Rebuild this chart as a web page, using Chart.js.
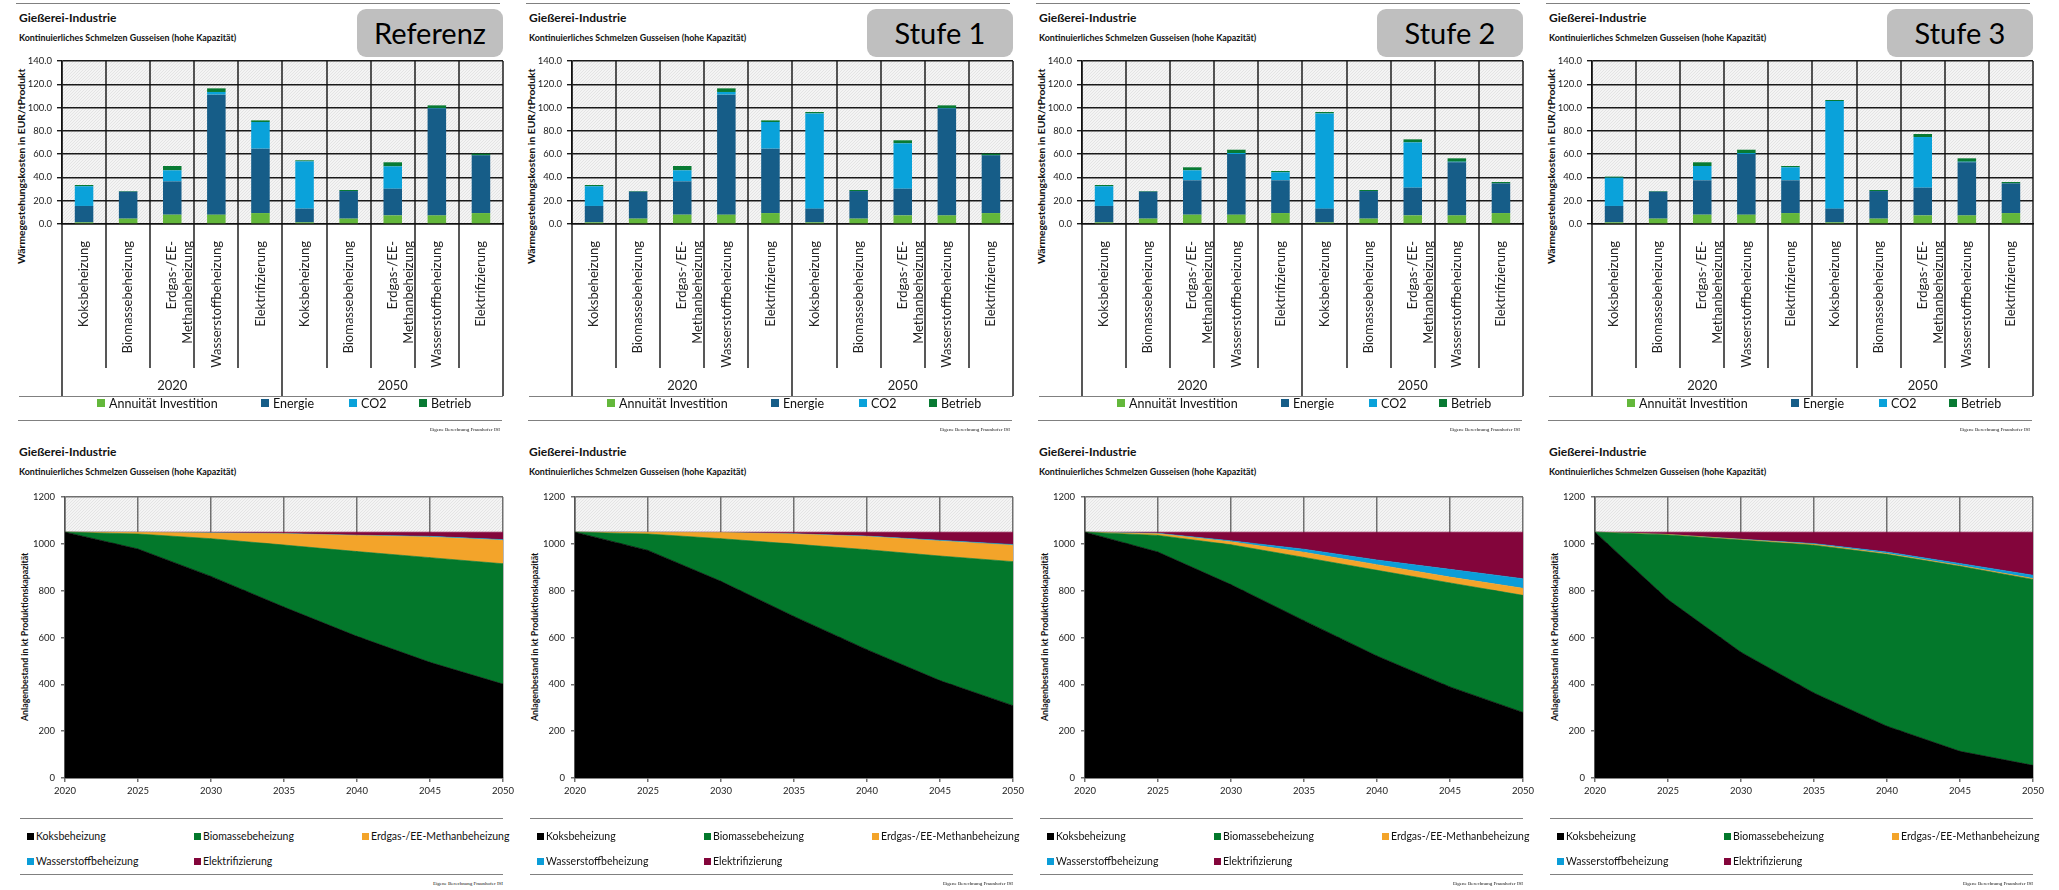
<!DOCTYPE html>
<html>
<head>
<meta charset="utf-8">
<script src="https://cdn.jsdelivr.net/npm/chart.js"></script>
<style>
    body { margin: 0; width: 2059px; height: 890px; background: #fff; position: relative; overflow: hidden; font-family: "Lato", sans-serif; color: #111; }
    .t { position: absolute; white-space: nowrap; }
    canvas { position: absolute; }
    .hr { position: absolute; height: 0; border-top: 1.5px solid #808080; }
    .sw { position: absolute; }
    .box { position: absolute; background: #bfbfbf; border-radius: 9px; text-align: center; color: #000; }
</style>
</head>
<body>
<script>
const scenarios = ["Referenz", "Stufe 1", "Stufe 2", "Stufe 3"];
const chartTitle = "Gießerei-Industrie";
const chartSubtitle = "Kontinuierliches  Schmelzen Gusseisen (hohe  Kapazität)";

// upper charts: Wärmegestehungskosten
const costCategories = [
    "Koksbeheizung", "Biomassebeheizung", ["Erdgas-/EE-", "Methanbeheizung"], "Wasserstoffbeheizung", "Elektrifizierung",
    "Koksbeheizung", "Biomassebeheizung", ["Erdgas-/EE-", "Methanbeheizung"], "Wasserstoffbeheizung", "Elektrifizierung"
];
const costGroups = ["2020", "2050"];
const costSeries = ["Annuität Investition", "Energie", "CO2", "Betrieb"];
const costTicks = [0, 20, 40, 60, 80, 100, 120, 140];

const refInvest = [1.4, 4.6, 8.0, 8.0, 9.4, 1.4, 4.6, 7.4, 7.4, 9.4];
const refEnergie = [14.1, 23.2, 28.6, 103.1, 55.3, 11.8, 23.7, 22.9, 91.7, 49.6];
const refCo2 = [16.9, 0, 9.5, 2.3, 22.9, 40.6, 0, 19.2, 0.5, 0];
const refBetrieb = [1.1, 0.5, 3.7, 3.1, 1.4, 0.9, 0.9, 3.5, 2.3, 1.4];

const st1Invest = [1.4, 4.6, 8.0, 8.0, 9.4, 1.4, 4.6, 7.4, 7.4, 9.4];
const st1Energie = [14.1, 23.2, 28.6, 103.1, 55.3, 11.8, 23.7, 22.9, 91.7, 49.6];
const st1Co2 = [16.9, 0, 9.5, 2.3, 22.9, 81.8, 0, 39.0, 0.5, 0];
const st1Betrieb = [1.1, 0.5, 3.7, 3.1, 1.4, 1.2, 0.9, 2.6, 2.3, 1.4];

const st2Invest = [1.4, 4.6, 8.0, 8.0, 9.4, 1.4, 4.6, 7.4, 7.4, 9.4];
const st2Energie = [14.1, 23.2, 29.5, 52.1, 28.1, 11.8, 23.7, 23.8, 45.6, 25.5];
const st2Co2 = [16.9, 0, 8.6, 0.9, 6.9, 81.8, 0, 38.9, 0.5, 0];
const st2Betrieb = [1.1, 0.5, 2.6, 2.8, 1.1, 1.2, 0.9, 2.6, 2.9, 1.2];

const st3Invest = [1.4, 4.6, 8.0, 8.0, 9.4, 1.4, 4.6, 7.4, 7.4, 9.4];
const st3Energie = [14.1, 23.2, 29.5, 52.2, 28.1, 11.8, 23.7, 23.8, 45.6, 25.5];
const st3Co2 = [24.3, 0, 12.3, 0.8, 11.2, 92.4, 0, 43.5, 0.5, 0];
const st3Betrieb = [0.9, 0.5, 3.2, 2.8, 1.1, 0.9, 0.9, 2.6, 2.9, 1.2];

// lower charts: Anlagenbestand
const years = ["2020", "2025", "2030", "2035", "2040", "2045", "2050"];
const stockSeries = ["Koksbeheizung", "Biomassebeheizung", "Erdgas-/EE-Methanbeheizung", "Wasserstoffbeheizung", "Elektrifizierung"];
const stockTicks = [0, 200, 400, 600, 800, 1000, 1200];

const refKoks = [1050, 978, 861, 730, 605, 494, 401];
const refBio = [0, 64, 161, 265, 362, 447, 514];
const refGas = [0, 7, 24, 48, 69, 88, 100];
const refH2 = [0, 0, 1, 1, 1, 3, 3];
const refElek = [0, 1, 3, 6, 13, 18, 32];

const st1Koks = [1050, 972, 840, 690, 548, 416, 309];
const st1Bio = [0, 70, 182, 309, 427, 532, 615];
const st1Gas = [0, 7, 26, 43, 56, 64, 70];
const st1H2 = [0, 0, 0, 1, 2, 3, 3];
const st1Elek = [0, 1, 2, 7, 17, 35, 53];

const st2Koks = [1050, 965, 826, 672, 521, 389, 280];
const st2Bio = [0, 71, 170, 270, 366, 444, 500];
const st2Gas = [0, 7, 13, 22, 24, 25, 30];
const st2H2 = [0, 2, 4, 13, 20, 33, 41];
const st2Elek = [0, 5, 37, 73, 119, 159, 199];

const st3Koks = [1050, 762, 537, 363, 221, 114, 54];
const st3Bio = [0, 276, 479, 631, 734, 790, 794];
const st3Gas = [0, 2, 3, 4, 4, 4, 4];
const st3H2 = [0, 0, 1, 3, 6, 8, 14];
const st3Elek = [0, 10, 30, 49, 85, 134, 184];

const costData = [
    [refInvest, refEnergie, refCo2, refBetrieb],
    [st1Invest, st1Energie, st1Co2, st1Betrieb],
    [st2Invest, st2Energie, st2Co2, st2Betrieb],
    [st3Invest, st3Energie, st3Co2, st3Betrieb]
];
const stockData = [
    [refKoks, refBio, refGas, refH2, refElek],
    [st1Koks, st1Bio, st1Gas, st1H2, st1Elek],
    [st2Koks, st2Bio, st2Gas, st2H2, st2Elek],
    [st3Koks, st3Bio, st3Gas, st3H2, st3Elek]
];

const costColors = ["#63b73b", "#165d88", "#0aa2da", "#087a33"];
const stockColors = ["#000000", "#03782b", "#f3a42a", "#0b9dd8", "#83053b"];

Chart.defaults.font.family = "Lato";
Chart.defaults.color = "#222";

function text(str, x, y, size, weight, align, family) {
    const d = document.createElement("div");
    d.className = "t";
    d.textContent = str;
    d.style.fontSize = size + "px";
    d.style.fontWeight = weight || 400;
    if (family) d.style.fontFamily = family;
    d.style.top = (y - size) + "px";
    d.style.lineHeight = (2 * size) + "px";
    if (align === "right") {
        d.style.left = (x - 400) + "px";
        d.style.width = "400px";
        d.style.textAlign = "right";
    } else {
        d.style.left = x + "px";
    }
    document.body.appendChild(d);
    return d;
}

function vtext(str, cx, cy, size, weight) {
    const d = document.createElement("div");
    d.className = "t";
    d.textContent = str;
    d.style.fontSize = size + "px";
    d.style.fontWeight = weight;
    d.style.width = "400px";
    d.style.textAlign = "center";
    d.style.left = (cx - 200) + "px";
    d.style.top = (cy - size) + "px";
    d.style.lineHeight = (2 * size) + "px";
    d.style.transform = "rotate(-90deg)";
    document.body.appendChild(d);
}

function hline(x, y, w) {
    const d = document.createElement("div");
    d.className = "hr";
    d.style.left = x + "px";
    d.style.top = y + "px";
    d.style.width = w + "px";
    document.body.appendChild(d);
}

function swatch(x, y, s, color) {
    const d = document.createElement("div");
    d.className = "sw";
    d.style.left = x + "px";
    d.style.top = (y - s / 2) + "px";
    d.style.width = s + "px";
    d.style.height = s + "px";
    d.style.background = color;
    document.body.appendChild(d);
}

function makeCanvas(left, top, w, h) {
    const c = document.createElement("canvas");
    c.width = w;
    c.height = h;
    c.style.left = left + "px";
    c.style.top = top + "px";
    document.body.appendChild(c);
    return c;
}

function hatchPattern(ctx) {
    const c = document.createElement("canvas");
    c.width = 3;
    c.height = 3;
    const g = c.getContext("2d");
    g.fillStyle = "#f4f4f4";
    g.fillRect(0, 0, 3, 3);
    g.strokeStyle = "#e0e0e0";
    g.lineWidth = 0.8;
    g.beginPath();
    g.moveTo(0, 3); g.lineTo(3, 0);
    g.moveTo(-1, 1); g.lineTo(1, -1);
    g.moveTo(2, 4); g.lineTo(4, 2);
    g.stroke();
    return ctx.createPattern(c, "repeat");
}

const hatch = {
    id: "hatch",
    beforeDraw(chart) {
        const { ctx, chartArea: a } = chart;
        ctx.save();
        ctx.fillStyle = hatchPattern(ctx);
        ctx.fillRect(a.left, a.top, a.right - a.left, a.bottom - a.top);
        ctx.restore();
    }
};

// category separators running through the label area, plus year group row
const costFrame = {
    id: "costFrame",
    afterDraw(chart) {
        const { ctx, chartArea: a, scales: { x } } = chart;
        const n = chart.data.labels.length;
        const step = x.getPixelForValue(1) - x.getPixelForValue(0);
        const start = x.getPixelForValue(0) - step / 2;
        ctx.save();
        ctx.strokeStyle = "#111";
        ctx.lineWidth = 1.4;
        for (let i = 0; i <= n; i++) {
            const px = Math.round(start + i * step);
            const full = i === 0 || i === n || i === n / 2;
            ctx.beginPath();
            ctx.moveTo(px, a.top);
            ctx.lineTo(px, full ? x.bottom : x.bottom - 28);
            ctx.stroke();
        }
        ctx.fillStyle = "#222";
        ctx.font = "13px Lato";
        ctx.textAlign = "center";
        ctx.textBaseline = "middle";
        costGroups.forEach((g, k) => {
            const cx = a.left + (a.right - a.left) * (k + 0.5) / costGroups.length;
            ctx.fillText(g, cx, x.bottom - 10);
        });
        ctx.restore();
    }
};

function drawCostPanel(ox, name, values) {
    hline(ox + 16, 3, 484);
    text(chartTitle, ox + 19, 18, 12, 700);
    text(chartSubtitle, ox + 19, 38, 8.9, 700);

    const box = document.createElement("div");
    box.className = "box";
    box.textContent = name;
    box.style.left = (ox + 357) + "px";
    box.style.top = "9px";
    box.style.width = "146px";
    box.style.height = "48px";
    box.style.lineHeight = "48px";
    box.style.fontSize = "29px";
    document.body.appendChild(box);

    vtext("Wärmegestehungskosten in EUR/tProdukt", ox + 21, 166, 10.3, 700);

    const cv = makeCanvas(ox, 45, 510, 355);
    new Chart(cv, {
        type: "bar",
        data: {
            labels: costCategories,
            datasets: costSeries.map((s, k) => ({
                label: s,
                data: values[k],
                backgroundColor: costColors[k],
                borderWidth: 0,
                barPercentage: 0.42,
                categoryPercentage: 1.0
            }))
        },
        options: {
            responsive: false,
            animation: false,
            layout: { padding: { left: 0, right: 7, top: 16, bottom: 4 } },
            plugins: { legend: { display: false }, tooltip: { enabled: false } },
            scales: {
                x: {
                    stacked: true,
                    grid: { display: false },
                    border: { color: "#111", width: 1.4 },
                    ticks: { minRotation: 90, maxRotation: 90, autoSkip: false, padding: 9, font: { size: 13 }, color: "#222" },
                    afterFit: (s) => { s.height = 172; }
                },
                y: {
                    stacked: true,
                    min: 0,
                    max: 140,
                    afterBuildTicks: (s) => { s.ticks = costTicks.map((v) => ({ value: v })); },
                    ticks: { padding: 5, font: { size: 9.5 }, color: "#222", callback: (v) => Number(v).toFixed(1) },
                    grid: { color: "#1a1a1a", lineWidth: 1.4, tickLength: 5 },
                    border: { color: "#111", width: 1.4 },
                    afterFit: (s) => { s.width = 62; }
                }
            }
        },
        plugins: [hatch, costFrame]
    });

    hline(ox + 19, 396, 484);
    const lx = [97, 261, 349, 419];
    costSeries.forEach((s, k) => {
        swatch(ox + lx[k], 403, 8, costColors[k]);
        text(s, ox + lx[k] + 12, 403, 12.5, 400);
    });
    text("Eigene Berechnung Fraunhofer ISI", ox + 500, 430, 5, 400, "right", "Liberation Serif");
}

function drawStockPanel(ox, values) {
    hline(ox + 18, 420, 484);
    text(chartTitle, ox + 19, 452, 12, 700);
    text(chartSubtitle, ox + 19, 472, 8.9, 700);
    vtext("Anlagenbestand  in kt Produktionskapazität", ox + 25, 637, 8.8, 700);

    const cv = makeCanvas(ox, 480, 525, 322);
    new Chart(cv, {
        type: "line",
        data: {
            labels: years,
            datasets: stockSeries.map((s, k) => ({
                label: s,
                data: values[k],
                backgroundColor: stockColors[k],
                borderColor: stockColors[k],
                borderWidth: 0.6,
                pointRadius: 0,
                tension: 0,
                fill: k === 0 ? "origin" : "-1"
            }))
        },
        options: {
            responsive: false,
            animation: false,
            layout: { padding: { left: 0, right: 22, top: 17, bottom: 0 } },
            plugins: { legend: { display: false }, tooltip: { enabled: false } },
            scales: {
                x: {
                    offset: false,
                    grid: { color: "#707070", lineWidth: 1.5, tickLength: 4, offset: false },
                    border: { color: "#555", width: 1.5 },
                    ticks: { padding: 3, font: { size: 9.5 }, color: "#222", maxRotation: 0 },
                    afterFit: (s) => { s.height = 24; }
                },
                y: {
                    stacked: true,
                    min: 0,
                    max: 1200,
                    afterBuildTicks: (s) => { s.ticks = stockTicks.map((v) => ({ value: v })); },
                    ticks: { padding: 6, font: { size: 9.5 }, color: "#222", callback: (v) => String(v) },
                    grid: { color: "#707070", lineWidth: 1.5, tickLength: 4 },
                    border: { color: "#555", width: 1.5 },
                    afterFit: (s) => { s.width = 65; }
                }
            }
        },
        plugins: [hatch]
    });

    hline(ox + 20, 818, 483);
    const cols = [27, 194, 362];
    stockSeries.forEach((s, k) => {
        const x = ox + cols[k % 3];
        const y = k < 3 ? 836 : 861;
        swatch(x, y, 7, stockColors[k]);
        text(s, x + 9, y, 10.5, 400);
    });
    hline(ox + 20, 874, 483);
    text("Eigene Berechnung Fraunhofer ISI", ox + 503, 884, 5, 400, "right", "Liberation Serif");
}

scenarios.forEach((name, i) => {
    const ox = 510 * i;
    drawCostPanel(ox, name, costData[i]);
    drawStockPanel(ox, stockData[i]);
});
</script>
</body>
</html>
